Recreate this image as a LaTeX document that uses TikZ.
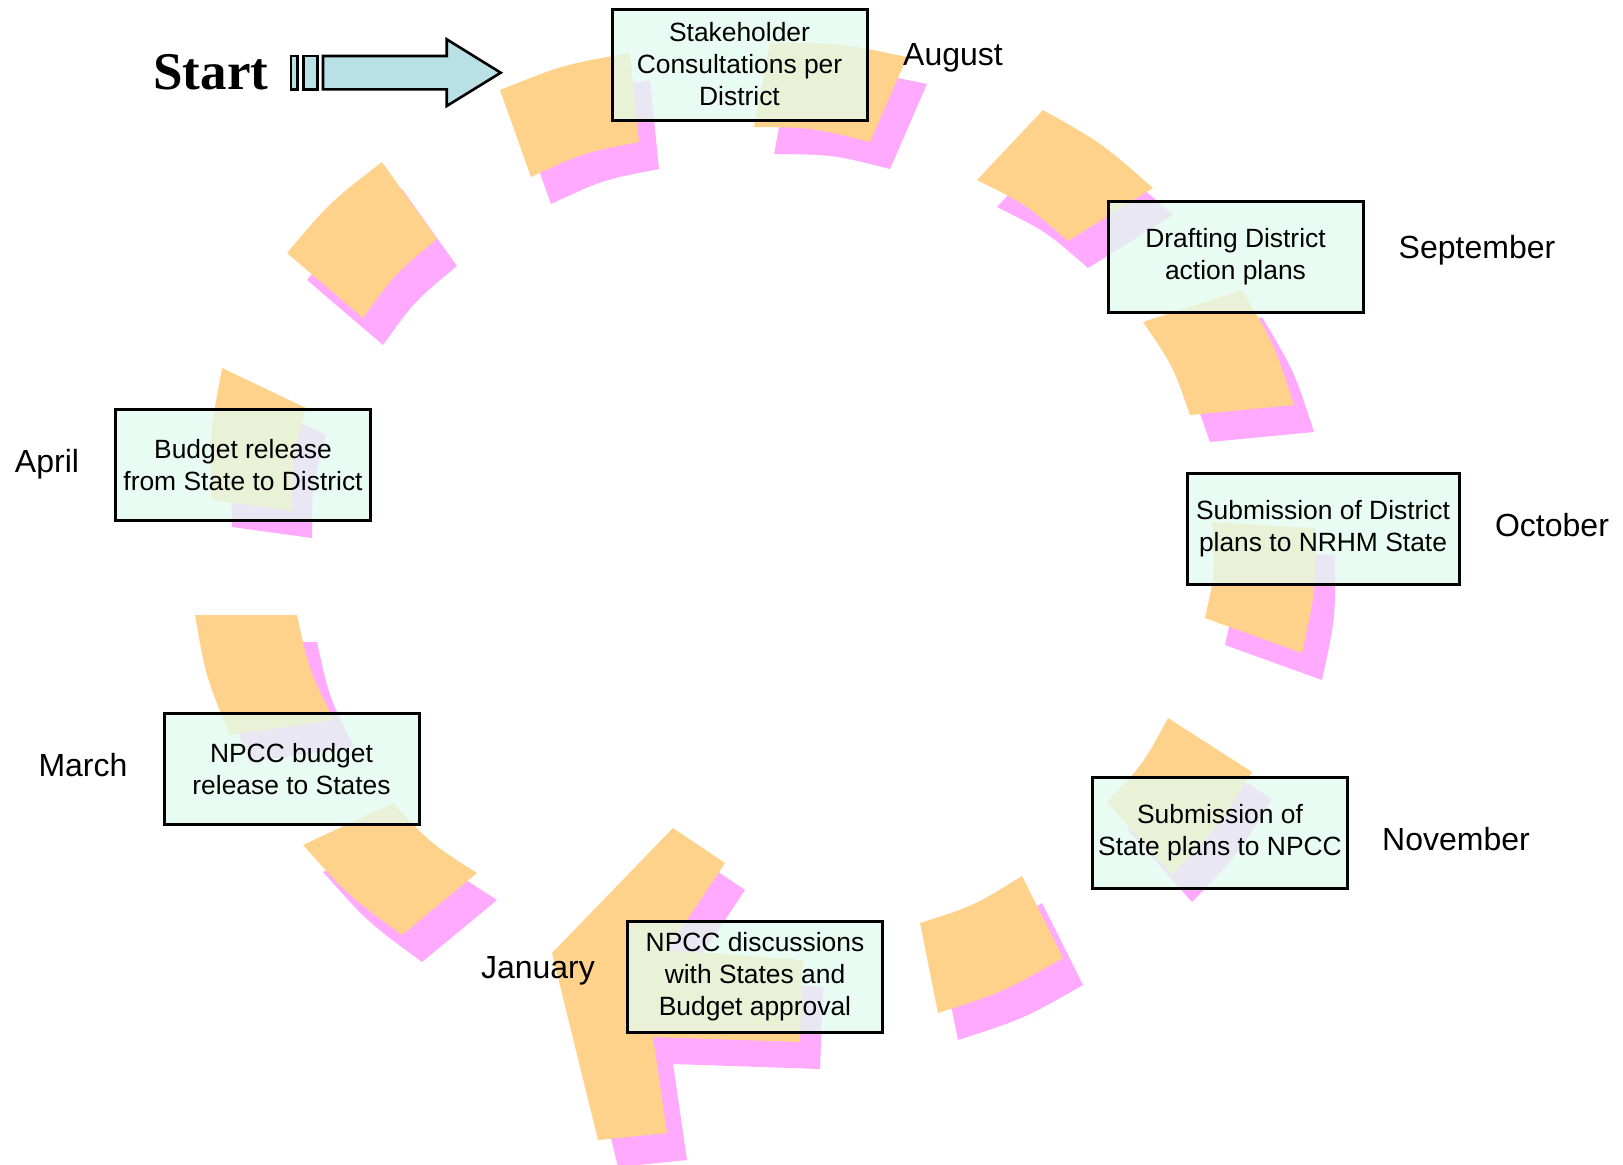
\documentclass[tikz,border=0pt]{standalone}
\usepackage{fontspec}
\setmainfont{Liberation Sans}
\newfontfamily\serifstart{Liberation Serif}
\usetikzlibrary{calc}
\definecolor{segorange}{RGB}{255,210,140}
\definecolor{segpink}{RGB}{255,170,255}
\definecolor{boxmint}{RGB}{226,252,240}
\definecolor{arrowblue}{RGB}{185,224,228}
\newcommand{\ringpiece}[4]{%
 \fill[segpink,shift={(20,27)}] #1 .. controls ($#1!0.5!#2!3.5pt!90:#2$) .. #2 -- #3 .. controls ($#3!0.5!#4!3.5pt!270:#4$) .. #4 -- cycle;
 \fill[segorange] #1 .. controls ($#1!0.5!#2!3.5pt!90:#2$) .. #2 -- #3 .. controls ($#3!0.5!#4!3.5pt!270:#4$) .. #4 -- cycle;}
\begin{document}
\begin{tikzpicture}[x=0.5pt,y=-0.5pt,
  box/.style={draw=black, line width=1.5pt, fill=boxmint, fill opacity=0.75, text opacity=1,
    align=center, inner sep=0pt, minimum width=127.5pt, minimum height=55.5pt,
    font=\fontsize{13.2}{16}\selectfont},
  month/.style={inner sep=0pt, font=\fontsize{16}{19}\selectfont},
  bluearrow/.style={draw=black, line width=1.3pt, fill=arrowblue}]
\useasboundingbox (0,0) rectangle (1623,1164);
\fill[white] (0,0) rectangle (1623,1164);

% ring pieces (outer edge first, clockwise)
\ringpiece{(500,90)}{(630,53)}{(639,142)}{(531,177)}
\ringpiece{(770,43)}{(907,57)}{(870,142)}{(754,127)}
\ringpiece{(1043,110)}{(1153,188)}{(1068,241)}{(977,180)}
\ringpiece{(1242,290)}{(1294,405)}{(1190,415)}{(1143,322)}
\ringpiece{(1315,528)}{(1302,653)}{(1205,618)}{(1212,522)}
\ringpiece{(1252,772)}{(1172,875)}{(1107,802)}{(1168,718)}
\ringpiece{(1063,958)}{(938,1013)}{(920,923)}{(1022,876)}
\ringpiece{(402,935)}{(303,845)}{(393,803)}{(477,873)}
\ringpiece{(230,735)}{(195,615)}{(297,615)}{(334,720)}
\ringpiece{(212,500)}{(222,368)}{(306,408)}{(292,511)}
\ringpiece{(287,253)}{(382,162)}{(437,239)}{(363,318)}
% January piece
\fill[segpink,shift={(20,27)}] (673,828) -- (725,863) -- (667,950) -- (803,960) -- (800,1042) -- (653,1037) -- (667,1133) -- (598,1140) -- (552,953) -- cycle;
\fill[segorange] (673,828) -- (725,863) -- (667,950) -- (803,960) -- (800,1042) -- (653,1037) -- (667,1133) -- (598,1140) -- (552,953) -- cycle;

% boxes
\node[box] (stake) at (739.5,64.5) {Stakeholder\\Consultations per\\District};
\node[box] (draft) at (1235.5,257) {Drafting District\\action plans};
\node[box, minimum width=136pt] (subdist) at (1323,529) {Submission of District\\plans to NRHM State};
\node[box] (substate) at (1220,832.5) {Submission of\\State plans to NPCC};
\node[box] (npccdisc) at (755,976.5) {NPCC discussions\\with States and\\Budget approval};
\node[box] (npccbud) at (291.5,769) {NPCC budget\\release to States};
\node[box] (budrel) at (243,465) {Budget release\\from State to District};

% months
\node[month] (aug) at (953,58) {August};
\node[month] (sep) at (1477,250) {September};
\node[month] (oct) at (1552,525) {October};
\node[month] (nov) at (1456,839.5) {November};
\node[month] (jan) at (538,971) {January};
\node[month] (mar) at (83,765) {March};
\node[month] (apr) at (47,464) {April};

% start arrow
\node[inner sep=0pt, anchor=base west, font=\serifstart\bfseries\fontsize{26.5}{30}\selectfont] (start) at (153,89) {Start};
\draw[bluearrow] (291,56) rectangle (297.7,89.3);
\draw[bluearrow] (303.7,56) rectangle (317.7,89.3);
\draw[bluearrow] (323,56) -- (446.7,56) -- (446.7,39.3) -- (500.7,72.7) -- (446.7,106) -- (446.7,89.3) -- (323,89.3) -- cycle;
\end{tikzpicture}
\end{document}
